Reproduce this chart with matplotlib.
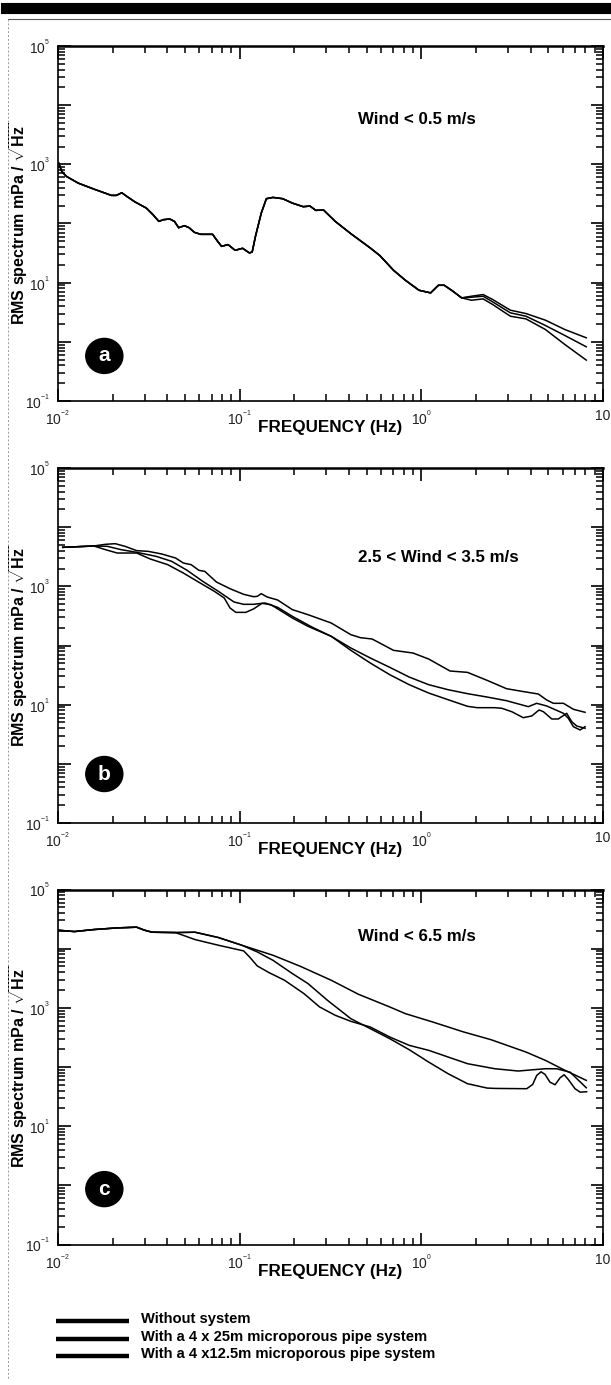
import matplotlib
matplotlib.use("Agg")
from matplotlib import pyplot as plt
from matplotlib.lines import Line2D
from matplotlib.patches import Ellipse
from matplotlib.ticker import LogLocator, NullFormatter
import numpy as np

plt.rcParams['font.family'] = ['Liberation Sans', 'DejaVu Sans']
plt.rcParams['mathtext.fontset'] = 'custom'
plt.rcParams['mathtext.rm'] = 'Liberation Sans'
plt.rcParams['mathtext.bf'] = 'Liberation Sans:bold'
plt.rcParams['mathtext.default'] = 'regular'

# all curves as log10(Hz), log10(mPa/sqrt(Hz))
# panel a: one shared curve, splits in three above about 1.7 Hz
a_f = [-1.996,-1.979,-1.953,-1.889,-1.803,-1.706,-1.679,-1.649,-1.621,-1.578,-1.514,-1.477,-1.445,-1.421,-1.385,-1.359,-1.336,-1.304,-1.278,-1.250,-1.214,-1.149,-1.128,-1.100,-1.064,-1.025,-0.984,-0.946,-0.931,-0.913,-0.881,-0.853,-0.817,-0.763,-0.710,-0.650,-0.613,-0.581,-0.538,-0.474,-0.388,-0.281,-0.228,-0.153,-0.088,-0.013,0.051,0.094,0.126,0.169,0.222]
a_s = [3.020,2.880,2.795,2.683,2.582,2.475,2.475,2.520,2.458,2.368,2.261,2.149,2.036,2.064,2.076,2.036,1.929,1.963,1.929,1.851,1.817,1.817,1.727,1.614,1.643,1.547,1.581,1.502,1.519,1.783,2.177,2.419,2.441,2.419,2.345,2.284,2.295,2.222,2.227,2.036,1.828,1.586,1.457,1.209,1.041,0.872,0.827,0.956,0.956,0.866,0.743]
a_tail_f = [0.276,0.340,0.393,0.490,0.576,0.683,0.790,0.908]
a_top = [0.771,0.799,0.715,0.535,0.478,0.366,0.208,0.068]
a_mid = [0.754,0.771,0.675,0.490,0.433,0.276,0.107,-0.084]
a_low = [0.703,0.726,0.630,0.433,0.388,0.208,-0.045,-0.309]

# panel b
b_top_f = [-1.974,-1.803,-1.739,-1.685,-1.631,-1.567,-1.503,-1.428,-1.353,-1.310,-1.267,-1.224,-1.192,-1.128,-1.053,-0.978,-0.924,-0.903,-0.881,-0.849,-0.791,-0.710,-0.624,-0.496,-0.388,-0.335,-0.271,-0.153,-0.046,0.040,0.158,0.254,0.362,0.469,0.554,0.644,0.690,0.727,0.782,0.837,0.901]
b_top_s = [3.659,3.682,3.710,3.721,3.676,3.603,3.591,3.546,3.479,3.394,3.366,3.270,3.253,3.073,2.960,2.865,2.825,2.831,2.876,2.820,2.769,2.606,2.521,2.380,2.183,2.132,2.110,1.918,1.873,1.772,1.569,1.546,1.411,1.270,1.225,1.180,1.079,1.023,1.023,0.922,0.871]
b_mid_f = [-1.974,-1.803,-1.728,-1.653,-1.567,-1.460,-1.374,-1.289,-1.203,-1.117,-1.031,-0.978,-0.924,-0.860,-0.791,-0.710,-0.603,-0.496,-0.388,-0.281,-0.174,-0.067,0.040,0.147,0.254,0.362,0.469,0.589,0.635,0.690,0.782,0.809,0.837,0.874,0.901]
b_mid_s = [3.659,3.682,3.676,3.620,3.575,3.507,3.422,3.270,3.084,2.915,2.735,2.696,2.696,2.718,2.645,2.493,2.313,2.155,1.958,1.789,1.631,1.467,1.338,1.253,1.186,1.129,1.067,0.966,1.023,0.978,0.854,0.770,0.628,0.572,0.628]
b_low_f = [-1.974,-1.803,-1.739,-1.674,-1.567,-1.492,-1.396,-1.310,-1.224,-1.139,-1.085,-1.053,-1.021,-0.967,-0.924,-0.877,-0.828,-0.710,-0.624,-0.496,-0.388,-0.281,-0.174,-0.067,0.040,0.147,0.254,0.308,0.404,0.443,0.498,0.561,0.608,0.648,0.672,0.718,0.754,0.800,0.828,0.855,0.901]
b_low_s = [3.659,3.682,3.620,3.563,3.563,3.462,3.366,3.225,3.068,2.915,2.803,2.634,2.560,2.560,2.617,2.713,2.690,2.465,2.324,2.155,1.918,1.704,1.507,1.338,1.197,1.084,0.972,0.949,0.949,0.939,0.881,0.780,0.809,0.910,0.881,0.758,0.758,0.854,0.712,0.640,0.601]

# panel c, the start is shared by all three
c_start_f = [-2.000,-1.910,-1.803,-1.674,-1.567,-1.524,-1.481,-1.353]
c_start_s = [4.312,4.289,4.323,4.351,4.363,4.312,4.278,4.272]
c_top_f = [-1.246,-1.117,-0.988,-0.817,-0.667,-0.496,-0.346,-0.174,-0.088,0.062,0.233,0.383,0.576,0.683,0.780,0.908]
c_top_s = [4.278,4.188,4.058,3.889,3.703,3.466,3.229,3.015,2.902,2.761,2.592,2.462,2.253,2.112,1.960,1.774]
c_mid_f = [-1.246,-1.117,-0.988,-0.903,-0.817,-0.710,-0.624,-0.517,-0.388,-0.281,-0.174,-0.067,0.040,0.147,0.254,0.362,0.406,0.580,0.613,0.635,0.659,0.681,0.708,0.736,0.764,0.786,0.809,0.846,0.874,0.910]
c_mid_s = [4.278,4.188,4.058,3.945,3.804,3.579,3.410,3.128,2.817,2.648,2.479,2.293,2.084,1.887,1.718,1.644,1.638,1.633,1.705,1.857,1.919,1.874,1.744,1.700,1.818,1.869,1.789,1.633,1.575,1.582]
c_low_f = [-1.246,-1.117,-0.978,-0.946,-0.903,-0.839,-0.753,-0.646,-0.560,-0.474,-0.388,-0.281,-0.174,-0.067,0.040,0.254,0.404,0.533,0.683,0.745,0.819,0.908]
c_low_s = [4.154,4.058,3.962,3.861,3.708,3.596,3.466,3.240,3.015,2.874,2.772,2.676,2.507,2.366,2.282,2.056,1.971,1.932,1.971,1.970,1.912,1.649]

x_ticks = [1e-2, 1e-1, 1e0, 1e1]
x_tick_labels = ['$10^{{}^{-2}}$', '$10^{{}^{-1}}$', '$10^{{}^{0}}$', '10']
y_ticks = [1e-1, 1e0, 1e1, 1e2, 1e3, 1e4, 1e5]
y_tick_labels = ['$10^{{}^{-1}}$', '', '$10^{{}^{1}}$', '', '$10^{{}^{3}}$', '', '$10^{{}^{5}}$']
wind_labels = ['Wind < 0.5 m/s', '2.5 < Wind < 3.5 m/s', 'Wind < 6.5 m/s']
badges = ['a', 'b', 'c']
legend_labels = ['Without system', 'With a 4 x 25m microporous pipe system', 'With a 4 x12.5m microporous pipe system']

curves = [
    [(a_f + a_tail_f, a_s + a_top), (a_f + a_tail_f, a_s + a_mid), (a_f + a_tail_f, a_s + a_low)],
    [(b_top_f, b_top_s), (b_mid_f, b_mid_s), (b_low_f, b_low_s)],
    [(c_start_f + c_top_f, c_start_s + c_top_s), (c_start_f + c_mid_f, c_start_s + c_mid_s), (c_start_f + c_low_f, c_start_s + c_low_s)],
]

W, H = 611, 1385
fig = plt.figure(figsize=(W / 100, H / 100), dpi=100)

tops = [46, 468, 889.5]
wind_y = [0.792, 0.749, 0.867]
badge_y = [0.127, 0.138, 0.156]

for i in range(3):
    ax = fig.add_axes([58 / W, 1 - (tops[i] + 355) / H, 545 / W, 355 / H])
    for f, s in curves[i]:
        ax.plot(10 ** np.array(f), 10 ** np.array(s), color='black', linewidth=1.1, solid_joinstyle='round')
    ax.set_xscale('log')
    ax.set_yscale('log')
    ax.set_xlim(1e-2, 1e1)
    ax.set_ylim(1e-1, 1e5)
    ax.set_xticks(x_ticks)
    ax.set_xticklabels(x_tick_labels)
    ax.set_yticks(y_ticks)
    ax.set_yticklabels(y_tick_labels)
    for axis in [ax.xaxis, ax.yaxis]:
        axis.set_minor_locator(LogLocator(base=10, subs=np.arange(2, 10), numticks=12))
        axis.set_minor_formatter(NullFormatter())
    ax.tick_params(which='major', direction='in', top=True, right=True, length=9, width=1.2, labelsize=10, labelcolor='#222222')
    ax.tick_params(which='minor', direction='in', top=True, right=True, length=5, width=1.1)
    ax.tick_params(axis='x', which='major', pad=6)
    ax.tick_params(axis='y', which='major', pad=5.5)
    for sp in ax.spines.values():
        sp.set_linewidth(1.2)
    ax.spines['top'].set_linewidth(1.8)
    ax.set_xlabel('FREQUENCY (Hz)', fontsize=12.3, fontweight='bold', va='center')
    ax.xaxis.set_label_coords(0.5, -0.076)
    ax.set_ylabel(r'RMS spectrum mPa / $\mathbf{\sqrt{Hz}}$', fontsize=11.5, fontweight='bold', va='center')
    ax.yaxis.set_label_coords(-0.073, 0.5)
    ax.text(0.55, wind_y[i], wind_labels[i], transform=ax.transAxes, fontsize=12.2, fontweight='bold', va='center')
    ax.add_patch(Ellipse((0.085, badge_y[i]), 0.068, 0.0986, transform=ax.transAxes, color='black'))
    ax.text(0.085, badge_y[i], badges[i], transform=ax.transAxes, color='white', fontsize=15, fontweight='bold', ha='center', va='center')

handles = [Line2D([], [], color='black', linewidth=3.2, solid_capstyle='butt') for label in legend_labels]
leg = fig.legend(handles, legend_labels, loc='upper left', bbox_to_anchor=(56.5 / W, 1 - 1315.5 / H), frameon=False,
                 prop={'size': 10.6, 'weight': 'bold'}, handlelength=4.95, handletextpad=0.82, labelspacing=0.24,
                 borderpad=0, borderaxespad=0)
for t in leg.get_texts():
    t.set_y(3.5)

# page scan leftovers: heavy bar and rule on top, speckled line on the left
fig.add_artist(Line2D([6 / W, 1], [1 - 7.5 / H] * 2, color='black', linewidth=8, transform=fig.transFigure))
fig.add_artist(Line2D([8 / W, 1], [1 - 18.5 / H] * 2, color='#555555', linewidth=0.8, transform=fig.transFigure))
fig.add_artist(Line2D([8 / W, 8 / W], [1 - 19 / H, 1 - 1380 / H], color='#999999', linewidth=0.7, linestyle=(0, (2, 2)), transform=fig.transFigure))

plt.savefig('out.png', dpi=100)
